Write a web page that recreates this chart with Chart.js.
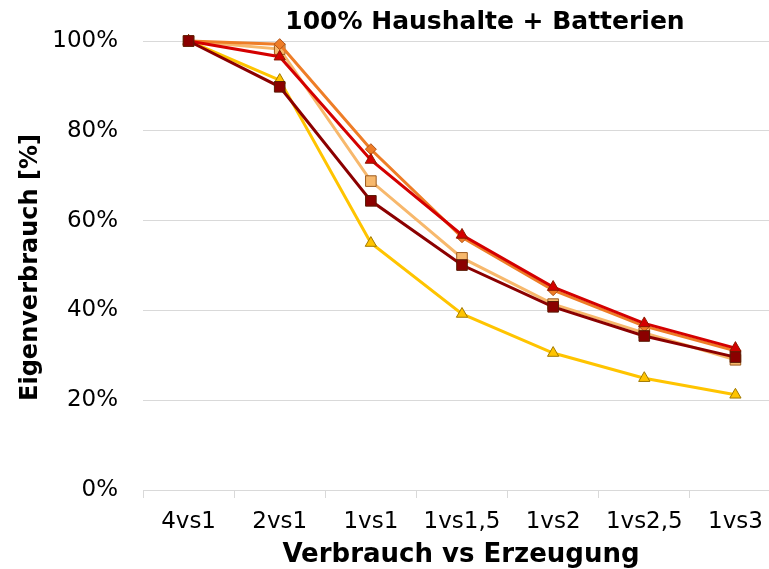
<!DOCTYPE html>
<html lang="de">
<head>
<meta charset="utf-8">
<title>100% Haushalte + Batterien</title>
<script src="https://cdn.jsdelivr.net/npm/chart.js@4.4.1/dist/chart.umd.min.js"></script>
<style>
  html, body { margin: 0; padding: 0; background: #fff; overflow: hidden; }
  #wrap { position: relative; width: 790px; height: 569px; }
</style>
</head>
<body>
<div id="wrap"><canvas id="chart"></canvas></div>
<script>
  'use strict';

  // Werte (Eigenverbrauch in %)
  const CATEGORIES = ['4vs1', '2vs1', '1vs1', '1vs1,5', '1vs2', '1vs2,5', '1vs3'];
  const SERIES_DARKRED = [100, 89.8, 64.4, 50.1, 40.8, 34.3, 29.6];
  const SERIES_RED = [100, 96.5, 73.5, 56.8, 45.2, 37.1, 31.6];
  const SERIES_ORANGE = [100, 99.3, 75.9, 56.3, 44.5, 36.5, 31.0];
  const SERIES_LIGHTORANGE = [100, 98.2, 68.8, 51.7, 41.4, 35.0, 29.0];
  const SERIES_YELLOW = [100, 91.3, 55.0, 39.2, 30.5, 24.9, 21.2];
  const Y_TICKS = [0, 20, 40, 60, 80, 100];

  const FONT = "'DejaVu Sans', 'Liberation Sans', Arial, sans-serif";
  const GRID = '#d9d9d9';

  function series(label, data, color, edge, style, radius) {
    return {
      label,
      data,
      borderColor: color,
      backgroundColor: color,
      borderWidth: 3,
      pointStyle: style,
      pointRadius: radius,
      pointHoverRadius: radius,
      pointBackgroundColor: color,
      pointBorderColor: edge,
      pointBorderWidth: 1,
      tension: 0,
      clip: false,
    };
  }

  // draws the chart title and both axis titles
  const textPlugin = {
    id: 'texts',
    afterDraw(chart) {
      const ctx = chart.ctx;
      const area = chart.chartArea;
      ctx.save();
      ctx.fillStyle = '#000';
      ctx.textAlign = 'center';
      ctx.textBaseline = 'alphabetic';

      ctx.font = 'bold 25px ' + FONT;
      ctx.fillText('100% Haushalte + Batterien', 485, 29);

      ctx.font = 'bold 26px ' + FONT;
      ctx.fillText('Verbrauch vs Erzeugung', 461, 562);

      ctx.translate(37, (area.top + area.bottom) / 2 + 2);
      ctx.rotate(-Math.PI / 2);
      ctx.font = 'bold 24px ' + FONT;
      ctx.fillText('Eigenverbrauch [%]', 0, 0);
      ctx.restore();
    },
  };

  const ctx = document.getElementById('chart').getContext('2d');
  new Chart(ctx, {
    type: 'line',
    data: {
      labels: CATEGORIES,
      datasets: [
        series('Serie 1', SERIES_DARKRED, '#8b0000', '#5a1a05', 'rect', 7.5),
        series('Serie 2', SERIES_RED, '#d40000', '#8a1a00', 'triangle', 6.5),
        series('Serie 3', SERIES_ORANGE, '#ee7d27', '#b0541a', 'rectRot', 5.5),
        series('Serie 4', SERIES_LIGHTORANGE, '#f7b86c', '#9c5b1f', 'rect', 7.5),
        series('Serie 5', SERIES_YELLOW, '#ffc400', '#a07800', 'triangle', 6.5),
      ],
    },
    options: {
      responsive: true,
      maintainAspectRatio: false,
      animation: false,
      events: [],
      layout: { padding: { top: 41, right: 9, left: 0, bottom: 0 } },
      plugins: {
        legend: { display: false },
        title: { display: false },
        tooltip: { enabled: false },
      },
      scales: {
        x: {
          type: 'category',
          offset: true,
          grid: {
            offset: true,
            drawOnChartArea: false,
            drawTicks: true,
            tickLength: 8,
            color: GRID,
            lineWidth: 1,
          },
          border: { display: true, color: GRID, width: 1 },
          ticks: {
            color: '#000',
            font: { family: FONT, size: 23 },
            padding: 10,
            maxRotation: 0,
            autoSkip: false,
          },
          afterFit: (scale) => { scale.height = 79; },
        },
        y: {
          min: 0,
          max: 100,
          grid: { color: GRID, lineWidth: 1, drawTicks: false },
          border: { display: false },
          afterBuildTicks: (scale) => {
            scale.ticks = Y_TICKS.map((v) => ({ value: v }));
          },
          ticks: {
            color: '#000',
            font: { family: FONT, size: 23 },
            padding: 25,
            callback: (v) => v + '%',
          },
          afterFit: (scale) => { scale.width = 143; },
        },
      },
    },
    plugins: [textPlugin],
  });
</script>
</body>
</html>
